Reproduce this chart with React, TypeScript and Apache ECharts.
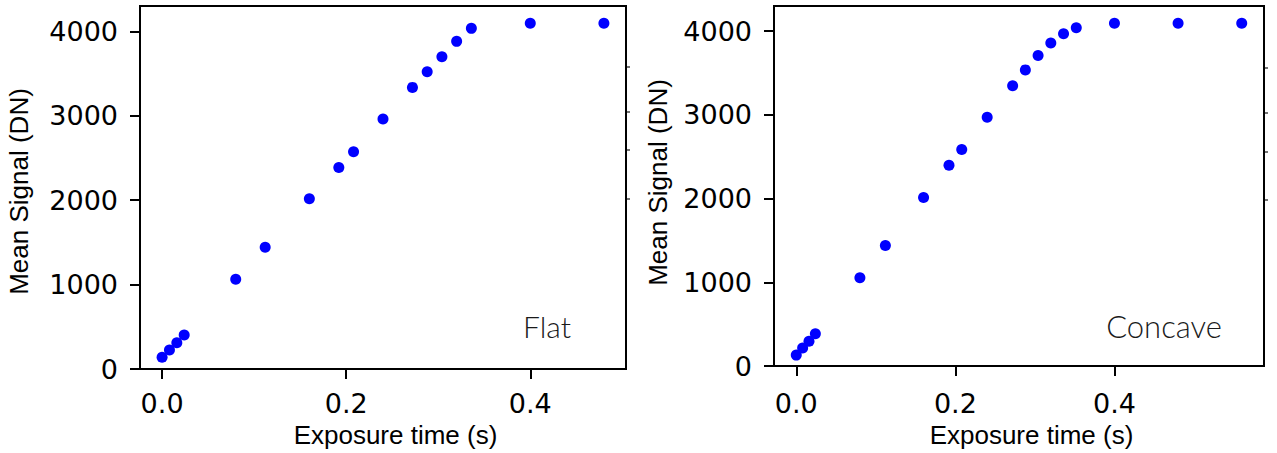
import React, { useEffect, useRef } from "react";
import * as echarts from "echarts";

const flatTime = [0, 0.008, 0.016, 0.024, 0.08, 0.112, 0.16, 0.192, 0.208, 0.24, 0.272, 0.288, 0.304, 0.32, 0.336, 0.4, 0.48];
const flatSignal = [139, 225, 312, 403, 1064, 1443, 2016, 2387, 2573, 2961, 3336, 3522, 3700, 3881, 4035, 4095, 4095];

const concaveTime = [0, 0.008, 0.016, 0.024, 0.08, 0.112, 0.16, 0.192, 0.208, 0.24, 0.272, 0.288, 0.304, 0.32, 0.336, 0.352, 0.4, 0.48, 0.56];
const concaveSignal = [130, 216, 295, 385, 1053, 1438, 2012, 2397, 2585, 2971, 3348, 3537, 3710, 3858, 3969, 4040, 4094, 4094, 4094];

const xTicks = [0, 0.2, 0.4];
const yTicks = [0, 1000, 2000, 3000, 4000];
const panelNames = ["Flat", "Concave"];
const xTitle = "Exposure time (s)";
const yTitle = "Mean Signal (DN)";

export default function App() {
  const ref = useRef<HTMLDivElement>(null);
  useEffect(() => {
    if (!ref.current) return;
    const chart = echarts.init(ref.current, undefined, { renderer: "svg" });
    const tickFont = { fontFamily: "DejaVu Sans", fontSize: 27, color: "#000" };
    const mkX = (gi: number, min: number, max: number, margin: number, gap: number) => ({
      type: "value",
      gridIndex: gi,
      min,
      max,
      name: xTitle,
      nameLocation: "middle",
      nameGap: gap,
      nameTextStyle: { fontFamily: "Liberation Sans", fontSize: 26, color: "#000", padding: [0, 0, 0, 25] },
      axisLine: { show: false, onZero: false },
      axisTick: { show: true, inside: false, length: 10, lineStyle: { color: "#000", width: 2 }, customValues: xTicks },
      axisLabel: { ...tickFont, margin, customValues: xTicks, formatter: (v: number) => v.toFixed(1) },
      splitLine: { show: false },
    });
    const mkY = (gi: number, gap: number, pad: number[]) => ({
      type: "value",
      gridIndex: gi,
      min: 0,
      max: 4300,
      name: yTitle,
      nameLocation: "middle",
      nameGap: gap,
      nameRotate: 90,
      nameTextStyle: { fontFamily: "Liberation Sans", fontSize: 26, color: "#000", padding: pad },
      axisLine: { show: false, onZero: false },
      axisTick: { show: true, inside: false, length: 10, lineStyle: { color: "#000", width: 2 }, customValues: yTicks },
      axisLabel: { ...tickFont, margin: 22, customValues: yTicks, formatter: (v: number) => String(v) },
      splitLine: { show: false },
    });
    const stray = (x: number, ys: number[]) =>
      ys.map((y) => ({
        type: "line",
        shape: { x1: x, y1: y, x2: x + 3, y2: y },
        style: { stroke: "#444", lineWidth: 1.5 },
        silent: true,
      }));
    chart.setOption({
      animation: false,
      grid: [
        { left: 140, top: 6, width: 486, height: 363, show: true, borderColor: "#000", borderWidth: 2, backgroundColor: "transparent" },
        { left: 774, top: 6, width: 490, height: 365, show: true, borderColor: "#000", borderWidth: 2, backgroundColor: "transparent" },
      ],
      xAxis: [mkX(0, -0.024, 0.504, 21, 52), mkX(1, -0.028, 0.588, 24, 56)],
      yAxis: [mkY(0, 108, [0, 8, 0, 0]), mkY(1, 103, [0, 0, 0, 7])],
      series: [
        {
          type: "scatter",
          xAxisIndex: 0,
          yAxisIndex: 0,
          symbol: "circle",
          symbolSize: 11,
          itemStyle: { color: "#0000ff", opacity: 1 },
          data: flatTime.map((t, i) => [t, flatSignal[i]]),
        },
        {
          type: "scatter",
          xAxisIndex: 1,
          yAxisIndex: 1,
          symbol: "circle",
          symbolSize: 11,
          itemStyle: { color: "#0000ff", opacity: 1 },
          data: concaveTime.map((t, i) => [t, concaveSignal[i]]),
        },
      ],
      graphic: [
        {
          type: "text",
          x: 547,
          y: 326,
          style: { text: panelNames[0], fontFamily: "Lato", fontWeight: 300, fontSize: 30, fill: "#1a1a1a", textAlign: "center", textVerticalAlign: "middle" },
        },
        {
          type: "text",
          x: 1164,
          y: 326,
          style: { text: panelNames[1], fontFamily: "Lato", fontWeight: 300, fontSize: 31, fill: "#1a1a1a", textAlign: "center", textVerticalAlign: "middle" },
        },
        ...stray(627, [67, 112, 150, 199]),
        ...stray(1265, [68, 113, 152, 200]),
      ],
    });
    return () => chart.dispose();
  }, []);
  return <div ref={ref} style={{ position: "fixed", left: 0, top: 0, width: 1277, height: 453, background: "#fff" }} />;
}
